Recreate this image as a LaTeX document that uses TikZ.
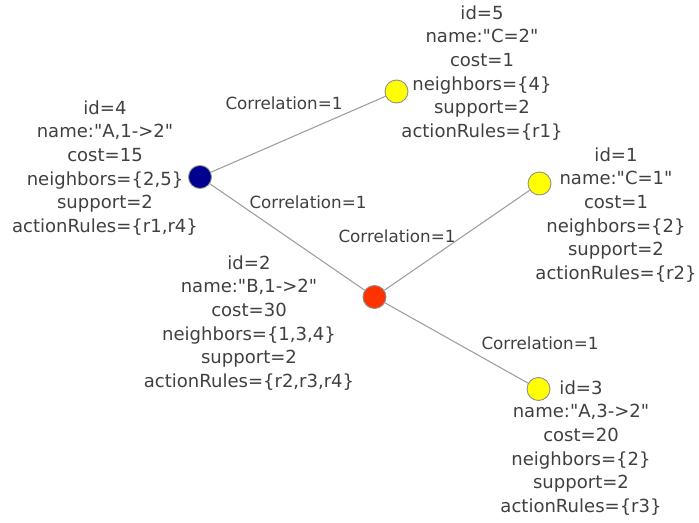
\documentclass[tikz,border=0pt]{standalone}
\usepackage{fontspec}
% no TeX ligatures, so " stays a straight quote
\setmainfont{DejaVu Sans}[Ligatures=TeXOff]
\definecolor{txt}{HTML}{404040}
\definecolor{edgegray}{HTML}{A0A0A0}
\definecolor{rimgray}{HTML}{909090}
\definecolor{navy}{HTML}{000090}
\definecolor{hotred}{HTML}{FF3300}
\definecolor{sun}{HTML}{FFFF00}
\begin{document}
\begin{tikzpicture}[x=1bp,y=-1bp,
  vertex/.style={circle,draw=rimgray,line width=0.9bp,minimum size=23bp,inner sep=0pt},
  info/.style={align=center,text=txt,inner sep=0pt,font=\fontsize{18.1}{23.7}\selectfont},
  link/.style={draw=edgegray,line width=1.1bp},
  weight/.style={text=txt,inner sep=0pt,font=\fontsize{16.8}{19}\selectfont}]
\useasboundingbox (0,0) rectangle (699,523);

% attribute blocks
\node[info] (t4) at (105,168) {id=4\\name:"A,1->2"\\cost=15\\neighbors=\{2,5\}\\support=2\\actionRules=\{r1,r4\}};
\node[info] (t5) at (482,73) {id=5\\name:"C=2"\\cost=1\\neighbors=\{4\}\\support=2\\actionRules=\{r1\}};
\node[info] (t1) at (616,215) {id=1\\name:"C=1"\\cost=1\\neighbors=\{2\}\\support=2\\actionRules=\{r2\}};
\node[info] (t2) at (249,323) {id=2\\name:"B,1->2"\\cost=30\\neighbors=\{1,3,4\}\\support=2\\actionRules=\{r2,r3,r4\}};
\node[info] (t3) at (581,448) {id=3\\name:"A,3->2"\\cost=20\\neighbors=\{2\}\\support=2\\actionRules=\{r3\}};

% vertices
\node[vertex,fill=navy] (n4) at (200,177) {};
\node[vertex,fill=sun] (n5) at (396.5,91.5) {};
\node[vertex,fill=sun] (n1) at (539.5,183.5) {};
\node[vertex,fill=hotred] (n2) at (374.5,297) {};
\node[vertex,fill=sun] (n3) at (538.5,389) {};

% connections
\path[link] (n4) -- (n5);
\path[link] (n4) -- (n2);
\path[link] (n2) -- (n1);
\path[link] (n2) -- (n3);

% connection weights
\node[weight] (w45) at (284,103) {Correlation=1};
\node[weight] (w42) at (308,202) {Correlation=1};
\node[weight] (w21) at (397,236) {Correlation=1};
\node[weight] (w23) at (540,343) {Correlation=1};
\end{tikzpicture}
\end{document}
